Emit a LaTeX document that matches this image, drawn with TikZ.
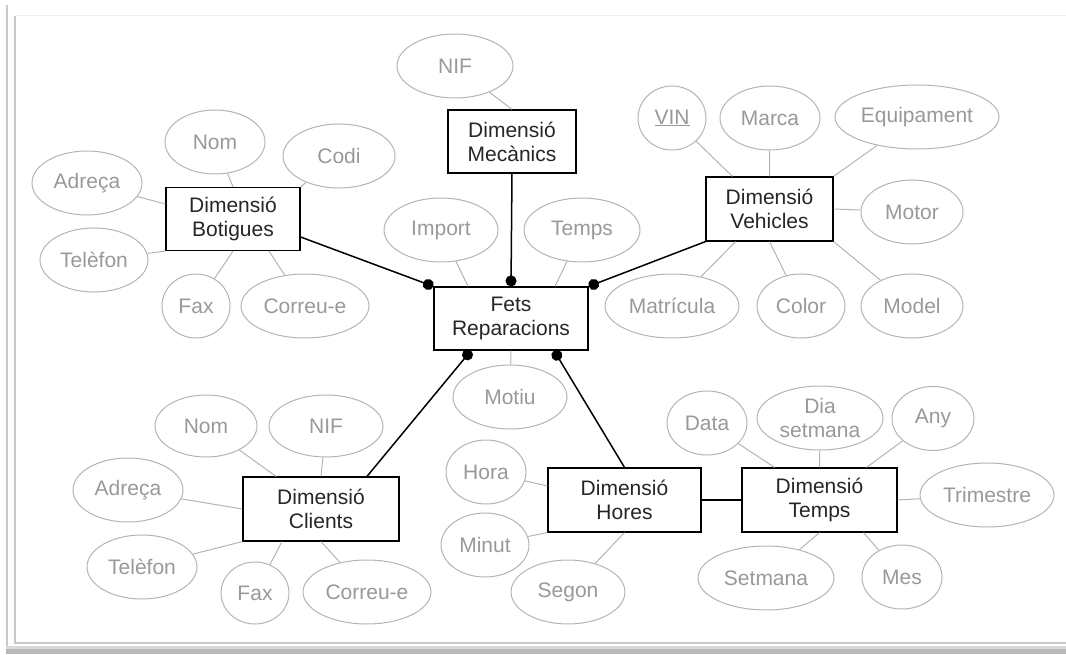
\documentclass[tikz,border=0pt]{standalone}
\usepackage{fontspec}
\setmainfont{Liberation Sans}
\usetikzlibrary{shapes.geometric,arrows.meta,calc}

\definecolor{attrgray}{HTML}{B4B4B4}
\definecolor{attrtext}{HTML}{999999}
\definecolor{framegray}{HTML}{C8C8C8}

\tikzset{
  entity/.style={draw=black, line width=1.2pt, fill=white, minimum height=64pt,
    align=center, inner sep=0pt, text=black!85, font=\fontsize{21}{24}\selectfont},
  attr/.style={ellipse, draw=attrgray, line width=1pt, fill=white, inner sep=0pt,
    minimum height=64pt, align=center, text=attrtext, font=\fontsize{21}{24}\selectfont},
  attrline/.style={draw=attrgray, line width=1pt},
  fk/.style={draw=black, line width=1.5pt, -{Circle[length=11pt]}},
  link/.style={draw=black, line width=1.5pt},
}

\begin{document}
\begin{tikzpicture}[x=1pt, y=-1pt]
\useasboundingbox (0,0) rectangle (1066,655);

% page frame
\draw[framegray, line width=2pt] (7,5) -- (7,651);
\draw[framegray, line width=1.4pt] (15,16) -- (15,643) -- (1066,643);
\draw[black!6, line width=1pt] (16,16) -- (1066,16);
\fill[black!28] (6,649) rectangle (1066,654);
\fill[black!15] (6,646) rectangle (1066,649);

% dimension tables and the fact table
\node[entity, minimum width=134pt, minimum height=63pt] (botigues) at (233,219) {Dimensió\\Botigues};
\node[entity, minimum width=128pt, minimum height=63pt] (mecanics) at (512,141.5) {Dimensió\\Mecànics};
\node[entity, minimum width=127pt] (vehicles) at (769.5,209) {Dimensió\\Vehicles};
\node[entity, minimum width=154pt, minimum height=63pt] (fets) at (511,318.5) {Fets\\Reparacions};
\node[entity, minimum width=156pt] (clients) at (321,509) {Dimensió\\Clients};
\node[entity, minimum width=153pt] (hores) at (624.5,500) {Dimensió\\Hores};
\node[entity, minimum width=155pt] (tempsdim) at (819.5,500) {Dimensió\\Temps};

% attributes of Botigues
\node[attr, minimum width=100pt] (bnom) at (215,142) {Nom};
\node[attr, minimum width=112pt] (bcodi) at (339,156) {Codi};
\node[attr, minimum width=110pt] (badreca) at (87,183) {Adreça};
\node[attr, minimum width=108pt] (btelefon) at (94,260) {Telèfon};
\node[attr, minimum width=68pt] (bfax) at (196,306) {Fax};
\node[attr, minimum width=128pt] (bcorreu) at (305,306) {Correu-e};

% attribute of Mecànics
\node[attr, minimum width=116pt] (mnif) at (455,66) {NIF};

% attributes of the fact
\node[attr, minimum width=114pt] (import) at (441,230) {Import};
\node[attr, minimum width=116pt] (tempsattr) at (582,230) {Temps};
\node[attr, minimum width=114pt] (motiu) at (510,397) {Motiu};

% attributes of Vehicles
\node[attr, minimum width=68pt] (vin) at (672,118) {\underline{VIN}};
\node[attr, minimum width=100pt] (marca) at (770,118) {Marca};
\node[attr, minimum width=164pt] (equip) at (917,117) {Equipament};
\node[attr, minimum width=102pt] (motor) at (912,212) {Motor};
\node[attr, minimum width=134pt] (matricula) at (672,306) {Matrícula};
\node[attr, minimum width=88pt] (color) at (801,306) {Color};
\node[attr, minimum width=102pt] (model) at (912,306) {Model};

% attributes of Clients
\node[attr, minimum width=102pt, minimum height=62pt] (cnom) at (206,426) {Nom};
\node[attr, minimum width=114pt, minimum height=62pt] (cnif) at (326,426) {NIF};
\node[attr, minimum width=110pt] (cadreca) at (128,490) {Adreça};
\node[attr, minimum width=110pt] (ctelefon) at (142,567) {Telèfon};
\node[attr, minimum width=68pt, minimum height=62pt] (cfax) at (255,593) {Fax};
\node[attr, minimum width=128pt] (ccorreu) at (367,592) {Correu-e};

% attributes of Hores
\node[attr, minimum width=80pt] (hora) at (486,472) {Hora};
\node[attr, minimum width=88pt] (minut) at (485,545) {Minut};
\node[attr, minimum width=114pt] (segon) at (568,592) {Segon};

% attributes of Temps
\node[attr, minimum width=80pt] (data) at (707,423) {Data};
\node[attr, minimum width=126pt, inner ysep=-3pt] (dia) at (820,418) {Dia\\setmana};
\node[attr, minimum width=82pt] (any) at (933,418.5) {Any};
\node[attr, minimum width=134pt] (trimestre) at (987,495) {Trimestre};
\node[attr, minimum width=136pt] (setmana) at (766,578) {Setmana};
\node[attr, minimum width=80pt] (mes) at (902,577) {Mes};

% attribute lines
\draw[attrline] (bnom) -- (botigues.north);
\draw[attrline] (bcodi) -- (botigues.north east);
\draw[attrline] (badreca) -- ($(botigues.west)+(0,-15)$);
\draw[attrline] (btelefon) -- (botigues.south west);
\draw[attrline] (bfax) -- (botigues.south);
\draw[attrline] (bcorreu) -- ($(botigues.south)+(36,0)$);

\draw[attrline] (mnif) -- (mecanics.north);

\draw[attrline] (import) -- ($(fets.north)+(-43,0)$);
\draw[attrline] (tempsattr) -- ($(fets.north)+(44,0)$);
\draw[attrline] (motiu) -- (fets.south);

\draw[attrline] (vin) -- ($(vehicles.north)+(-37,0)$);
\draw[attrline] (marca) -- (vehicles.north);
\draw[attrline] (equip) -- (vehicles.north east);
\draw[attrline] (motor) -- (vehicles.east);
\draw[attrline] (matricula) -- ($(vehicles.south)+(-34,0)$);
\draw[attrline] (color) -- (vehicles.south);
\draw[attrline] (model) -- (vehicles.south east);

\draw[attrline] (cnom) -- ($(clients.north)+(-45,0)$);
\draw[attrline] (cnif) -- (clients.north);
\draw[attrline] (cadreca) -- (clients.west);
\draw[attrline] (ctelefon) -- (clients.south west);
\draw[attrline] (cfax) -- ($(clients.south)+(-39,0)$);
\draw[attrline] (ccorreu) -- (clients.south);

\draw[attrline] (hora) -- ($(hores.west)+(0,-14)$);
\draw[attrline] (minut) -- (hores.south west);
\draw[attrline] (segon) -- (hores.south);

\draw[attrline] (data) -- ($(tempsdim.north)+(-45,0)$);
\draw[attrline] (dia) -- (tempsdim.north);
\draw[attrline] (any) -- ($(tempsdim.north)+(47,0)$);
\draw[attrline] (trimestre) -- (tempsdim.east);
\draw[attrline] (setmana) -- (tempsdim.south);
\draw[attrline] (mes) -- ($(tempsdim.south)+(44,0)$);

% dimension links to the fact
\draw[fk] ($(botigues.east)+(0,18)$) -- (fets.north west);
\draw[fk] (mecanics.south) -- (fets.north);
\draw[fk] (vehicles.south west) -- (fets.north east);
\draw[fk] ($(clients.north)+(46,0)$) -- ($(fets.south)+(-40,0)$);
\draw[fk] (hores.north) -- ($(fets.south)+(43,0)$);
\draw[link] (hores.east) -- (tempsdim.west);

\end{tikzpicture}
\end{document}
